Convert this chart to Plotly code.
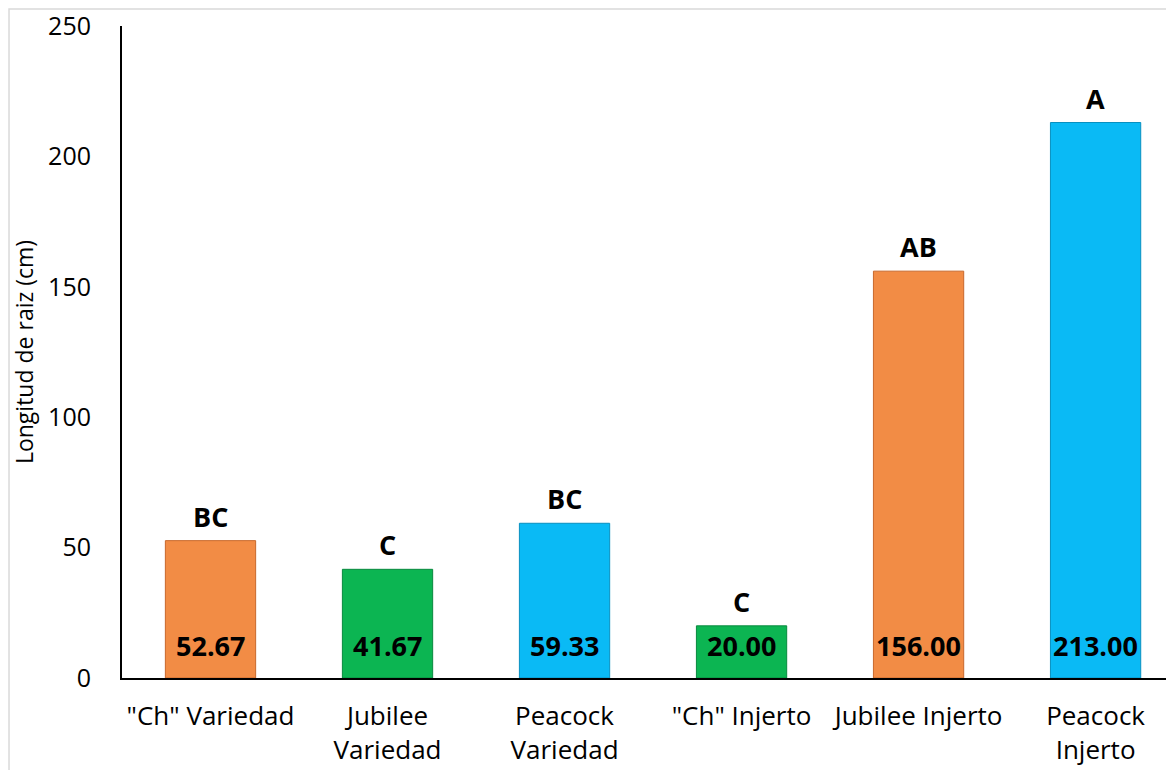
import plotly.graph_objects as go

# datos
tratamientos = ['"Ch" Variedad', "Jubilee<br>Variedad", "Peacock<br>Variedad",
                '"Ch" Injerto', "Jubilee Injerto", "Peacock<br>Injerto"]
longitud = [52.67, 41.67, 59.33, 20.00, 156.00, 213.00]
letras = ["BC", "C", "BC", "C", "AB", "A"]
colores = ["#F28C45", "#0CB552", "#0ABAF5", "#0CB552", "#F28C45", "#0ABAF5"]
bordes = ["#C8682C", "#08893E", "#0890C0", "#08893E", "#C8682C", "#0890C0"]
y_ticks = [0, 50, 100, 150, 200, 250]

FONT = "Open Sans, sans-serif"

fig = go.Figure(go.Bar(
    x=list(range(len(tratamientos))),
    y=longitud,
    width=0.51,
    marker=dict(color=colores, line=dict(color=bordes, width=1)),
    hoverinfo="skip",
))

# valores dentro de la barra (abajo) y letras de significancia arriba
for i, (v, l) in enumerate(zip(longitud, letras)):
    fig.add_annotation(x=i, y=0, text=f"<b>{v:.2f}</b>", showarrow=False,
                       yanchor="bottom", yshift=12,
                       font=dict(family=FONT, size=27, color="black"))
    fig.add_annotation(x=i, y=v, text=f"<b>{l}</b>", showarrow=False,
                       yanchor="bottom", yshift=4,
                       font=dict(family=FONT, size=27, color="black"))

# marco gris del área del gráfico
fig.add_shape(type="rect", xref="paper", yref="paper",
              x0=-0.1074, x1=1.05, y0=-0.16, y1=1.0261,
              line=dict(color="#D9D9D9", width=1.5), layer="below")

# la página añade 8 px de margen al cuerpo
fig.update_layout(
    width=1166, height=762,
    margin=dict(l=114, r=0, t=18, b=92),
    plot_bgcolor="white", paper_bgcolor="white",
    font=dict(family=FONT, size=25, color="black"),
    showlegend=False,
    xaxis=dict(
        range=[-0.5, 5.443],
        tickvals=list(range(len(tratamientos))),
        ticktext=tratamientos,
        showline=True, linecolor="black", linewidth=2,
        showgrid=False, zeroline=False, ticks="",
        ticklabelstandoff=14,
        tickfont=dict(family=FONT, size=26),
    ),
    yaxis=dict(
        range=[0, 250],
        tickvals=y_ticks,
        showline=True, linecolor="black", linewidth=2,
        showgrid=False, zeroline=False, ticks="",
        ticklabelstandoff=24,
        ticklabeloverflow="allow",
        tickfont=dict(family=FONT, size=25),
        title=dict(text="Longitud de raiz (cm)", standoff=14,
                   font=dict(family=FONT, size=23)),
    ),
)

fig.write_html("out.html")
